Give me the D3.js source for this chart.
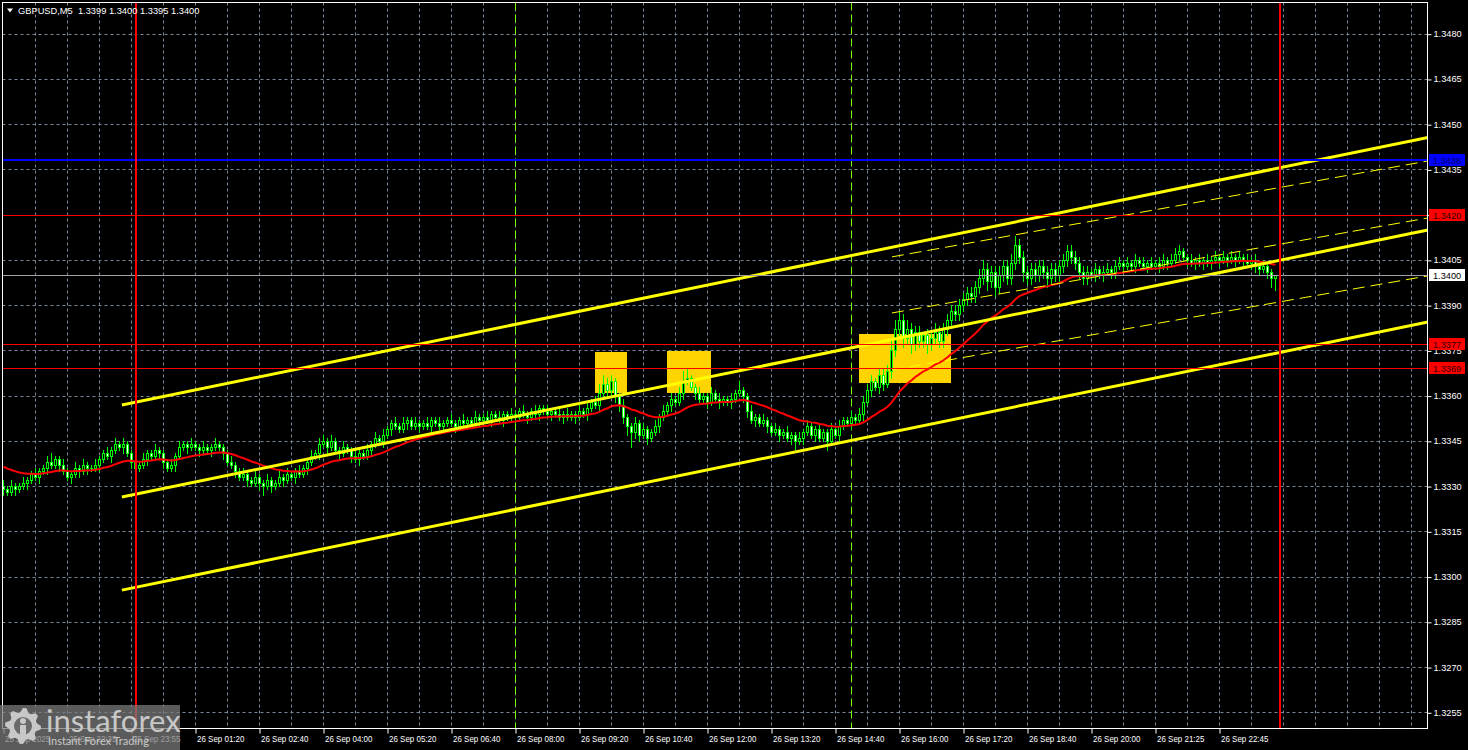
<!DOCTYPE html>
<html><head><meta charset="utf-8">
<script src="https://cdn.jsdelivr.net/npm/d3@7"></script>
<style>html,body{margin:0;padding:0;background:#000;overflow:hidden}svg{display:block}</style>
</head><body>
<svg id="c" width="1468" height="750"></svg>
<script>
// ---------------- DATA ----------------
const symbolTitle = "GBPUSD,M5";
const lastQuote = [1.3399, 1.3400, 1.3395, 1.3400];
const priceTicks = [1.3255,1.3270,1.3285,1.3300,1.3315,1.3330,1.3345,1.3360,1.3375,1.3390,1.3405,1.3420,1.3435,1.3450,1.3465,1.3480];
const timeLabelBars = [0,16,32,48,64,80,96,112,128,144,160,176,192,208,224,240,256,272,288,304];
const timeLabels = ["25 Sep 2025","25 Sep 22:35","25 Sep 23:55","26 Sep 01:20","26 Sep 02:40","26 Sep 04:00","26 Sep 05:20","26 Sep 06:40","26 Sep 08:00","26 Sep 09:20","26 Sep 10:40","26 Sep 12:00","26 Sep 13:20","26 Sep 14:40","26 Sep 16:00","26 Sep 17:20","26 Sep 18:40","26 Sep 20:00","26 Sep 21:25","26 Sep 22:45"];
const firstOpen = 1.3330;
const closes = [
1.3329,1.3328,1.3330,1.3329,1.3330,1.3331,1.3332,1.3334,1.3333,1.3335,
1.3336,1.3338,1.3337,1.3339,1.3337,1.3335,1.3333,1.3334,1.3336,1.3335,
1.3337,1.3336,1.3336,1.3337,1.3339,1.3341,1.3340,1.3342,1.3344,1.3343,
1.3344,1.3341,1.3338,1.3336,1.3337,1.3339,1.3341,1.3340,1.3342,1.3341,
1.3338,1.3336,1.3337,1.3340,1.3343,1.3344,1.3343,1.3344,1.3343,1.3342,
1.3343,1.3342,1.3343,1.3344,1.3343,1.3341,1.3338,1.3337,1.3335,1.3333,
1.3334,1.3332,1.3331,1.3333,1.3331,1.3330,1.3332,1.3330,1.3331,1.3333,
1.3332,1.3334,1.3333,1.3335,1.3334,1.3336,1.3338,1.3340,1.3341,1.3344,
1.3345,1.3343,1.3345,1.3342,1.3341,1.3343,1.3342,1.3340,1.3339,1.3341,
1.3340,1.3342,1.3344,1.3346,1.3345,1.3347,1.3349,1.3351,1.3350,1.3349,
1.3351,1.3352,1.3350,1.3351,1.3350,1.3351,1.3350,1.3352,1.3351,1.3350,
1.3351,1.3352,1.3351,1.3350,1.3352,1.3351,1.3352,1.3351,1.3353,1.3352,
1.3353,1.3352,1.3354,1.3353,1.3352,1.3354,1.3353,1.3354,1.3353,1.3355,
1.3354,1.3353,1.3355,1.3354,1.3356,1.3355,1.3354,1.3355,1.3354,1.3353,
1.3354,1.3353,1.3354,1.3353,1.3355,1.3354,1.3356,1.3358,1.3357,1.3361,
1.3364,1.3362,1.3365,1.3360,1.3357,1.3353,1.3350,1.3348,1.3351,1.3347,
1.3349,1.3346,1.3348,1.3350,1.3353,1.3355,1.3357,1.3359,1.3358,1.3361,
1.3365,1.3366,1.3363,1.3361,1.3359,1.3360,1.3358,1.3361,1.3359,1.3358,
1.3359,1.3358,1.3359,1.3361,1.3362,1.3360,1.3355,1.3352,1.3353,1.3351,
1.3352,1.3350,1.3348,1.3349,1.3347,1.3348,1.3346,1.3347,1.3345,1.3346,
1.3348,1.3350,1.3347,1.3349,1.3346,1.3348,1.3345,1.3349,1.3347,1.3350,
1.3352,1.3351,1.3353,1.3352,1.3354,1.3358,1.3362,1.3365,1.3363,1.3367,
1.3364,1.3368,1.3375,1.3382,1.3385,1.3379,1.3382,1.3377,1.3381,1.3378,
1.3380,1.3377,1.3379,1.3381,1.3378,1.3382,1.3385,1.3388,1.3387,1.3390,
1.3392,1.3394,1.3393,1.3396,1.3399,1.3402,1.3398,1.3401,1.3396,1.3400,
1.3403,1.3399,1.3404,1.3410,1.3406,1.3401,1.3399,1.3402,1.3400,1.3403,
1.3401,1.3399,1.3402,1.3400,1.3403,1.3405,1.3408,1.3406,1.3404,1.3401,
1.3399,1.3401,1.3400,1.3402,1.3400,1.3401,1.3402,1.3401,1.3403,1.3404,
1.3403,1.3404,1.3403,1.3405,1.3404,1.3403,1.3404,1.3403,1.3404,1.3403,
1.3405,1.3404,1.3405,1.3407,1.3408,1.3406,1.3405,1.3404,1.3405,1.3404,
1.3405,1.3404,1.3405,1.3406,1.3405,1.3406,1.3405,1.3406,1.3405,1.3406,
1.3405,1.3404,1.3405,1.3403,1.3402,1.3403,1.3401,1.3399,1.3400];
// wick lengths in pips beyond the body
const wickUp = [
2,1,2,1,1,2,1,1,2,1, 1,2,3,1,1,2,1,1,2,1, 2,1,1,2,1,1,2,1,2,1, 2,1,1,2,1,2,1,1,2,1,
1,1,2,1,2,1,1,2,1,1, 2,1,1,2,1,1,1,2,1,1, 2,1,1,2,1,1,2,1,1,2, 1,2,1,1,2,1,1,2,1,2,
2,1,2,1,1,2,1,1,2,1, 1,2,1,2,1,2,1,1,2,1, 2,1,1,2,1,1,2,1,1,2, 1,1,2,1,1,2,1,1,2,1,
1,2,1,1,2,1,1,2,1,1, 2,1,1,2,1,1,2,1,1,2, 1,2,1,1,2,1,2,1,2,3, 3,2,2,1,1,2,1,1,2,1,
2,1,1,2,1,2,1,2,1,2, 3,3,1,1,2,1,1,2,1,2, 1,1,2,1,3,1,1,2,1,1, 2,1,1,2,1,1,2,1,1,2,
1,2,1,1,2,1,1,2,1,2, 1,1,2,1,2,2,2,2,1,2, 2,2,3,3,3,2,3,2,2,2, 1,2,2,3,2,2,2,2,2,2,
2,2,2,2,3,3,2,2,2,3, 2,2,3,3,2,2,2,2,2,2, 2,2,2,2,2,2,2,2,2,2, 2,2,1,2,1,2,2,1,2,2,
1,2,1,2,1,2,1,2,1,2, 2,1,2,2,2,1,1,2,1,2, 1,2,1,2,1,2,1,2,1,2, 1,2,1,2,1,2,1,1,0];
const wickDn = [
2,1,1,2,1,1,2,1,1,2, 1,2,1,1,2,1,1,2,1,2, 1,2,1,1,2,1,1,2,1,1, 2,1,2,3,1,1,2,1,1,2,
2,1,1,2,1,1,2,1,1,2, 1,1,2,1,1,2,1,1,2,1, 1,2,1,1,2,3,1,2,1,1, 2,1,1,2,1,1,2,1,1,2,
1,2,1,1,2,1,1,2,1,2, 1,1,2,1,1,2,1,2,1,1, 1,2,1,1,2,1,1,2,1,1, 2,1,1,2,1,1,2,1,1,2,
1,1,2,1,1,2,1,1,2,1, 1,2,1,1,2,1,1,2,1,1, 2,1,1,2,1,1,2,1,1,2, 1,2,2,2,2,2,3,5,2,2,
1,2,1,1,2,1,1,2,1,1, 2,1,1,2,1,1,2,1,1,2, 1,1,2,1,1,2,2,1,2,1, 1,2,1,1,2,1,1,2,3,1,
2,1,1,2,1,1,3,1,1,2, 1,1,2,1,1,2,1,2,1,2, 2,1,2,2,2,3,2,3,2,2, 2,3,2,2,2,2,2,2,2,2,
2,2,2,2,2,2,3,2,3,2, 2,2,2,2,2,3,2,2,2,2, 2,3,2,2,2,2,2,2,2,2, 2,2,1,2,1,2,1,2,2,1,
2,1,1,2,1,1,2,1,1,2, 1,2,1,1,2,1,2,1,2,1, 2,1,2,1,2,1,2,1,2,1, 2,1,2,2,2,1,2,3,4];
const maSeed = 1.3337;
const maPeriod = 26;
const levelPrices = [1.3438, 1.3420, 1.3377, 1.3369];
const bidPrice = 1.3400;
const channelBars = [29.6, 356.1];
const channelUpper = [1.33569, 1.34456];
const channelMiddle = [1.33264, 1.34149];
const channelLower = [1.32955, 1.33844];
const regBars = [222.1, 356.1];
const regUpper = [1.34060, 1.34378];
const regMiddle = [1.33874, 1.34189];
const regLower = [1.33685, 1.33997];
const zoneBars = [[147.9,155.9],[165.9,176.9],[213.9,236.9]];
const zoneTop = [1.33745, 1.33748, 1.33804];
const zoneBottom = [1.33609, 1.33609, 1.33642];
const dayBreakBars = [33, 319];
const sessionBars = [128, 212];

// ---------------- STYLE ----------------
const W = 1468, H = 750;
const plot = {l: 2.5, t: 2.5, r: 1428.5, b: 729.5};
const FONT = "'Liberation Sans', Arial, sans-serif";
const levelStyle = [
  {color: "#0000ff", width: 2, text: "#000060"},
  {color: "#ff0000", width: 1, text: "#300000"},
  {color: "#ff0000", width: 1, text: "#300000"},
  {color: "#ff0000", width: 1, text: "#300000"}
];

const svg = d3.select("#c");
svg.append("rect").attr("width", W).attr("height", H).attr("fill", "#000");

const x = d3.scaleLinear().domain([0, 1]).range([3.5, 7.5]);
const y = d3.scaleLinear().domain([1.3255, 1.3480]).range([712.3, 33.7]);
const snap = v => Math.round(v) + 0.5;

svg.append("defs").append("clipPath").attr("id", "pc")
  .append("rect").attr("x", plot.l).attr("y", plot.t)
  .attr("width", plot.r - plot.l).attr("height", plot.b - plot.t);

const g = svg.append("g").attr("clip-path", "url(#pc)");

// grid
const gridColor = "#778899";
const vGrid = d3.range(8, 356, 8);
g.append("g").selectAll("line").data(vGrid).join("line")
  .attr("x1", d => x(d)).attr("x2", d => x(d))
  .attr("y1", plot.t).attr("y2", plot.b)
  .attr("stroke", gridColor).attr("stroke-width", 1).attr("stroke-dasharray", "3,3");
g.append("g").selectAll("line").data(priceTicks).join("line")
  .attr("x1", plot.l).attr("x2", plot.r)
  .attr("y1", d => snap(y(d))).attr("y2", d => snap(y(d)))
  .attr("stroke", gridColor).attr("stroke-width", 1).attr("stroke-dasharray", "3,3");

// zones (background rectangles)
g.append("g").selectAll("rect").data(zoneBars).join("rect")
  .attr("x", d => Math.round(x(d[0]))).attr("width", d => Math.round(x(d[1]) - x(d[0])))
  .attr("y", (d, i) => Math.round(y(zoneTop[i])))
  .attr("height", (d, i) => Math.round(y(zoneBottom[i]) - y(zoneTop[i])))
  .attr("fill", "#ffd400");

// session separators (lime dashed)
g.append("g").selectAll("line").data(sessionBars).join("line")
  .attr("x1", d => x(d)).attr("x2", d => x(d))
  .attr("y1", plot.t).attr("y2", plot.b)
  .attr("stroke", "#7cfc00").attr("stroke-width", 1).attr("stroke-dasharray", "8,4");

// candles
const candles = closes.map((c, i) => {
  const o = i === 0 ? firstOpen : closes[i - 1];
  return {i, o, c, h: Math.max(o, c) + wickUp[i] * 1e-4, l: Math.min(o, c) - wickDn[i] * 1e-4};
});
const cg = g.append("g");
cg.selectAll("line.w").data(candles).join("line").attr("class", "w")
  .attr("x1", d => x(d.i)).attr("x2", d => x(d.i))
  .attr("y1", d => Math.round(y(d.h))).attr("y2", d => Math.round(y(d.l)) + 1)
  .attr("stroke", "#00ff00").attr("stroke-width", 1);
cg.selectAll("rect.b").data(candles.filter(d => Math.round(y(d.o)) !== Math.round(y(d.c)))).join("rect").attr("class", "b")
  .attr("x", d => x(d.i) - 1)
  .attr("y", d => Math.round(y(Math.max(d.o, d.c))) + 0.5)
  .attr("width", 2)
  .attr("height", d => Math.round(y(Math.min(d.o, d.c))) - Math.round(y(Math.max(d.o, d.c))))
  .attr("fill", d => d.c > d.o ? "#000" : "#fff")
  .attr("stroke", "#00ff00").attr("stroke-width", 1);
cg.selectAll("line.d").data(candles.filter(d => Math.round(y(d.o)) === Math.round(y(d.c)))).join("line").attr("class", "d")
  .attr("x1", d => x(d.i) - 1.5).attr("x2", d => x(d.i) + 1.5)
  .attr("y1", d => snap(y(d.c))).attr("y2", d => snap(y(d.c)))
  .attr("stroke", "#00ff00").attr("stroke-width", 1);

// moving average (EMA of closes)
const ma = [];
{ const k = 2 / (maPeriod + 1); let e = maSeed;
  closes.forEach((c, i) => { e = e + k * (c - e); ma.push({i, v: e}); }); }
g.append("path").datum(ma)
  .attr("d", d3.line().x(d => x(d.i)).y(d => y(d.v)))
  .attr("fill", "none").attr("stroke", "#ff0000").attr("stroke-width", 2);

// channel
[channelUpper, channelMiddle, channelLower].forEach(p => {
  g.append("line")
    .attr("x1", x(channelBars[0])).attr("y1", y(p[0]))
    .attr("x2", x(channelBars[1])).attr("y2", y(p[1]))
    .attr("stroke", "#ffff00").attr("stroke-width", 3);
});
[regUpper, regMiddle, regLower].forEach(p => {
  g.append("line")
    .attr("x1", x(regBars[0])).attr("y1", y(p[0]))
    .attr("x2", x(regBars[1])).attr("y2", y(p[1]))
    .attr("stroke", "#ffff00").attr("stroke-width", 1).attr("stroke-dasharray", "12,6");
});

// horizontal levels
g.append("line").attr("x1", plot.l).attr("x2", plot.r)
  .attr("y1", snap(y(bidPrice))).attr("y2", snap(y(bidPrice)))
  .attr("stroke", "#a0a0a0").attr("stroke-width", 1);
levelPrices.forEach((p, i) => {
  const s = levelStyle[i];
  const yy = s.width === 2 ? Math.round(y(p)) : snap(y(p));
  g.append("line").attr("x1", plot.l).attr("x2", plot.r)
    .attr("y1", yy).attr("y2", yy)
    .attr("stroke", s.color).attr("stroke-width", s.width);
});

// day break vertical lines
g.append("g").selectAll("line").data(dayBreakBars).join("line")
  .attr("x1", d => Math.round(x(d))).attr("x2", d => Math.round(x(d)))
  .attr("y1", plot.t).attr("y2", plot.b)
  .attr("stroke", "#ff0000").attr("stroke-width", 2);

// border
svg.append("rect").attr("x", plot.l).attr("y", plot.t)
  .attr("width", plot.r - plot.l - 1).attr("height", plot.b - plot.t - 1)
  .attr("fill", "none").attr("stroke", "#fff").attr("stroke-width", 1);

// right axis
const ay = svg.append("g").attr("transform", `translate(${plot.r - 1},0)`)
  .call(d3.axisRight(y).tickValues(priceTicks).tickSize(4).tickPadding(2).tickFormat(d3.format(".4f")));
ay.select(".domain").remove();
ay.selectAll(".tick line").attr("stroke", "#fff").attr("transform", "translate(0,0.5)");
ay.selectAll(".tick text").attr("fill", "#fff").attr("font-family", FONT).attr("font-size", "9.2px");

// bottom axis
const ax = svg.append("g").attr("transform", `translate(0,${plot.b - 1})`)
  .call(d3.axisBottom(x).tickValues(timeLabelBars).tickSize(5).tickPadding(3).tickFormat((d, i) => timeLabels[i]));
ax.select(".domain").remove();
ax.selectAll(".tick line").attr("stroke", "#fff");
ax.selectAll(".tick text").attr("fill", "#fff").attr("font-family", FONT).attr("font-size", "9.4px")
  .attr("text-anchor", "start").attr("x", 1).attr("dy", "0.6em")
  .each(function () {
    const w = this.getComputedTextLength();
    d3.select(this).attr("textLength", (w * 0.85).toFixed(1)).attr("lengthAdjust", "spacingAndGlyphs");
  });

// level labels
function priceLabel(p, bg, fg) {
  const yc = Math.round(y(p));
  svg.append("rect").attr("x", 1429).attr("y", yc - 6).attr("width", 36).attr("height", 12).attr("fill", bg);
  svg.append("text").attr("x", 1433).attr("y", yc + 3.5).text(d3.format(".4f")(p))
    .attr("fill", fg).attr("font-family", FONT).attr("font-size", "9.2px");
}
levelPrices.forEach((p, i) => priceLabel(p, levelStyle[i].color, levelStyle[i].text));
priceLabel(bidPrice, "#ffffff", "#000000");

// title
svg.append("path").attr("d", "M7,8.5 L13,8.5 L10,12.5 Z").attr("fill", "#fff");
svg.append("text").attr("x", 18).attr("y", 14)
  .text(symbolTitle + "  " + lastQuote.map(d3.format(".4f")).join(" "))
  .attr("fill", "#fff").attr("font-family", FONT).attr("font-size", "9.3px")
  .attr("xml:space", "preserve").style("white-space", "pre");

// logo watermark
const logo = svg.append("g");
logo.append("rect").attr("x", 0).attr("y", 705).attr("width", 180).attr("height", 45)
  .attr("fill", "#7a7a7a").attr("opacity", 0.75);
{
  const cx = 23, cy = 726, teeth = 8, ro = 18, ri = 14;
  const pts = [];
  for (let k = 0; k < teeth * 4; k++) {
    const a = (k / (teeth * 4)) * Math.PI * 2;
    const r = (k % 4 === 0 || k % 4 === 1) ? ro : ri;
    pts.push([cx + r * Math.cos(a), cy + r * Math.sin(a)]);
  }
  logo.append("path").attr("d", d3.line()(pts) + "Z").attr("fill", "#c8c8c8");
  logo.append("circle").attr("cx", cx).attr("cy", cy).attr("r", 9).attr("fill", "#6a6a6a");
  logo.append("circle").attr("cx", cx).attr("cy", cy - 5).attr("r", 3).attr("fill", "#c8c8c8");
  logo.append("rect").attr("x", cx - 3).attr("y", cy - 1).attr("width", 6).attr("height", 11).attr("fill", "#c8c8c8");
}
logo.append("text").attr("x", 46).attr("y", 732).text("instaforex")
  .attr("fill", "#c8c8c8").attr("font-family", "Lato, 'Open Sans', sans-serif").attr("font-size", "31px");
logo.append("text").attr("x", 48).attr("y", 745).text("Instant Forex Trading")
  .attr("fill", "#c8c8c8").attr("font-family", "Lato, 'Open Sans', sans-serif").attr("font-size", "11px");
</script>
</body></html>
